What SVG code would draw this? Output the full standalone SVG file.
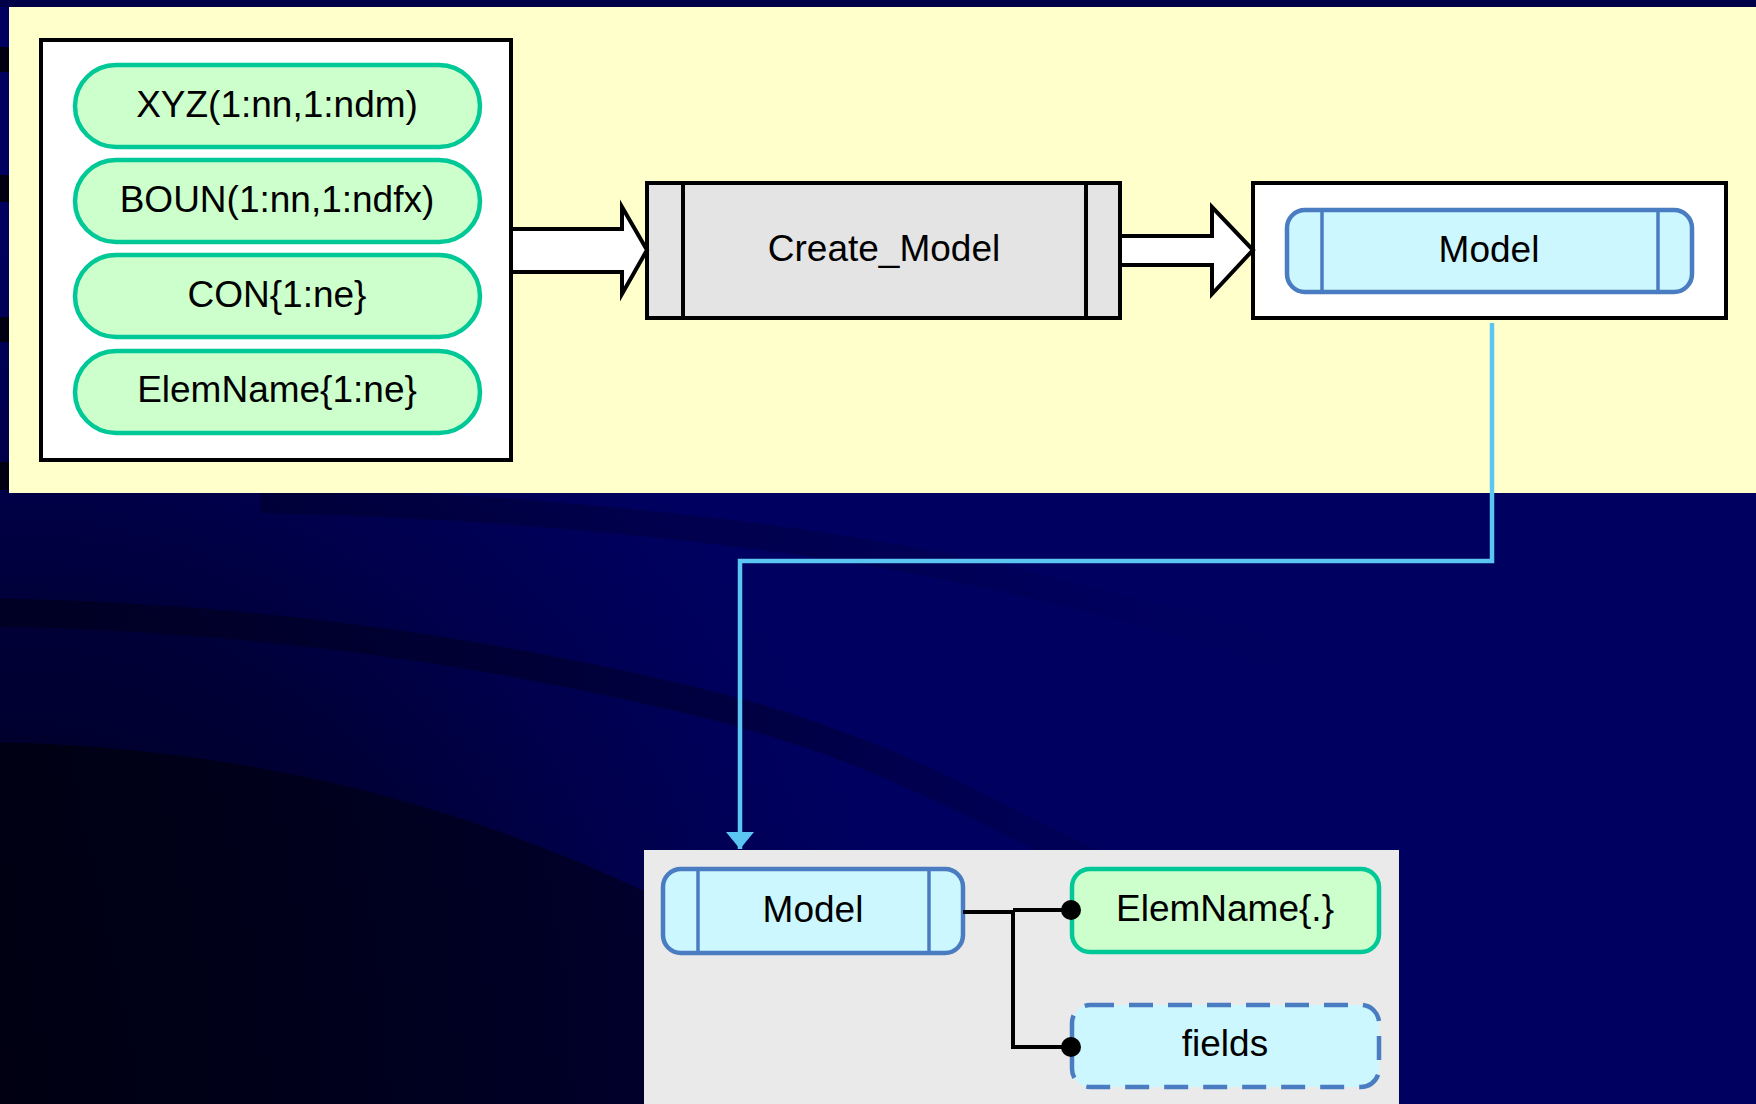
<svg xmlns="http://www.w3.org/2000/svg" width="1756" height="1104" viewBox="0 0 1756 1104">
  <style>
    .lbl { font-family: "Liberation Sans", Arial, sans-serif; font-size: 37px; fill: #000; text-anchor: middle; }
    .frame { fill: #fff; stroke: #000; stroke-width: 4; }
    .pill { fill: #ccffcc; stroke: #00c896; stroke-width: 4.5; }
    .obj { fill: #ccf7ff; stroke: #4a7cc2; stroke-width: 4.5; }
    .objline { stroke: #4a7cc2; stroke-width: 3.5; }
    .proc { fill: #e4e4e4; stroke: #000; stroke-width: 4; }
    .blockarrow { fill: #fff; stroke: #000; stroke-width: 4; stroke-linejoin: miter; }
    .flow { fill: none; stroke: #5bc6f2; stroke-width: 4.5; }
    .tree { fill: none; stroke: #000; stroke-width: 4; }
  </style>
  <defs>
    <radialGradient id="shade" cx="0" cy="1104" r="900" gradientUnits="userSpaceOnUse">
      <stop offset="0" stop-color="#000010" stop-opacity="1"/>
      <stop offset="0.55" stop-color="#000018" stop-opacity="0.55"/>
      <stop offset="1" stop-color="#000030" stop-opacity="0"/>
    </radialGradient>
    <linearGradient id="bandFade" x1="0" y1="0" x2="1300" y2="0" gradientUnits="userSpaceOnUse">
      <stop offset="0" stop-color="#000022" stop-opacity="0.95"/>
      <stop offset="0.6" stop-color="#000033" stop-opacity="0.6"/>
      <stop offset="1" stop-color="#000044" stop-opacity="0"/>
    </linearGradient>
    <linearGradient id="darkFade" x1="0" y1="0" x2="1050" y2="0" gradientUnits="userSpaceOnUse">
      <stop offset="0" stop-color="#000012" stop-opacity="0.95"/>
      <stop offset="0.65" stop-color="#000020" stop-opacity="0.7"/>
      <stop offset="1" stop-color="#000030" stop-opacity="0"/>
    </linearGradient>
    <marker id="tip" viewBox="0 0 17 28" refX="17" refY="14" markerWidth="17" markerHeight="28" markerUnits="userSpaceOnUse" orient="auto">
      <path d="M0 0 L17 14 L0 28 Z" fill="#5bc6f2"/>
    </marker>
  </defs>

  <!-- backdrop with dark sweeping bands -->
  <g id="backdrop">
    <rect x="0" y="0" width="1756" height="1104" fill="#000060"/>
    <rect x="0" y="0" width="1756" height="1104" fill="url(#shade)"/>
    <path d="M-20 612 C 230 616, 460 645, 690 700 S 1000 830, 1180 900" fill="none" stroke="url(#bandFade)" stroke-width="28"/>
    <path d="M-20 742 C 180 744, 400 780, 620 880 S 900 1050, 1000 1120 L -20 1120 Z" fill="url(#darkFade)"/>
    <path d="M260 500 C 500 505, 800 530, 1030 585 S 1300 660, 1420 720" fill="none" stroke="url(#bandFade)" stroke-width="26" opacity="0.6"/>
    <rect x="0" y="0" width="1756" height="7" fill="#000048"/>
    <rect x="0" y="47" width="9" height="25" fill="#000010"/>
    <rect x="0" y="175" width="9" height="27" fill="#000010"/>
    <rect x="0" y="317" width="9" height="25" fill="#000010"/>
    <rect x="0" y="462" width="9" height="28" fill="#000010"/>
  </g>

  <!-- upper and lower panels -->
  <rect x="9" y="7" width="1747" height="486" fill="#ffffcc"/>
  <rect x="644" y="850" width="755" height="260" fill="#eaeaea"/>

  <!-- input group -->
  <g id="inputs">
    <rect class="frame" x="41" y="40" width="470" height="420"/>
    <g id="xyz">
      <rect class="pill" x="75" y="65" width="405" height="82" rx="41"/>
      <text class="lbl" x="277" y="117">XYZ(1:nn,1:ndm)</text>
    </g>
    <g id="boun">
      <rect class="pill" x="75" y="160" width="405" height="82" rx="41"/>
      <text class="lbl" x="277" y="212">BOUN(1:nn,1:ndfx)</text>
    </g>
    <g id="con">
      <rect class="pill" x="75" y="255" width="405" height="82" rx="41"/>
      <text class="lbl" x="277" y="307">CON{1:ne}</text>
    </g>
    <g id="elemname-list">
      <rect class="pill" x="75" y="351" width="405" height="82" rx="41"/>
      <text class="lbl" x="277" y="402">ElemName{1:ne}</text>
    </g>
  </g>

  <!-- process -->
  <g id="create-model">
    <rect class="proc" x="647" y="183" width="473" height="135"/>
    <line x1="683" y1="183" x2="683" y2="318" stroke="#000" stroke-width="4"/>
    <line x1="1086" y1="183" x2="1086" y2="318" stroke="#000" stroke-width="4"/>
    <text class="lbl" x="884" y="261">Create_Model</text>
  </g>

  <!-- output group -->
  <g id="output">
    <rect class="frame" x="1253" y="183" width="473" height="135"/>
    <g id="model-out">
      <rect class="obj" x="1287" y="210" width="405" height="82" rx="18"/>
      <line class="objline" x1="1322" y1="210" x2="1322" y2="292"/>
      <line class="objline" x1="1658" y1="210" x2="1658" y2="292"/>
      <text class="lbl" x="1489" y="262">Model</text>
    </g>
  </g>

  <!-- structure of Model -->
  <g id="model-struct">
    <rect class="obj" x="663" y="869" width="300" height="84" rx="18"/>
    <line class="objline" x1="698" y1="869" x2="698" y2="953"/>
    <line class="objline" x1="929" y1="869" x2="929" y2="953"/>
    <text class="lbl" x="813" y="922">Model</text>
  </g>
  <g id="elemname-field">
    <rect class="pill" x="1072" y="869" width="307" height="83" rx="18"/>
    <text class="lbl" x="1225" y="921">ElemName{.}</text>
  </g>
  <g id="fields">
    <rect class="obj" x="1072" y="1005" width="307" height="82" rx="18" stroke-dasharray="24 15"/>
    <text class="lbl" x="1225" y="1056">fields</text>
  </g>

  <!-- connectors -->
  <g id="connectors">
    <polygon class="blockarrow" points="511,229 622,229 622,207 647,250 622,294 622,272 511,272"/>
    <polygon class="blockarrow" points="1120,236 1212,236 1212,207 1253,250 1212,294 1212,265 1120,265"/>
    <path class="flow" d="M1492 323 V561 H740 V849" marker-end="url(#tip)"/>
    <path class="tree" d="M963 912 H1013 M1013 910 H1066 M1013 910 V1047 H1066"/>
    <circle cx="1071" cy="910" r="10" fill="#000"/>
    <circle cx="1071" cy="1047" r="10" fill="#000"/>
  </g>
</svg>
